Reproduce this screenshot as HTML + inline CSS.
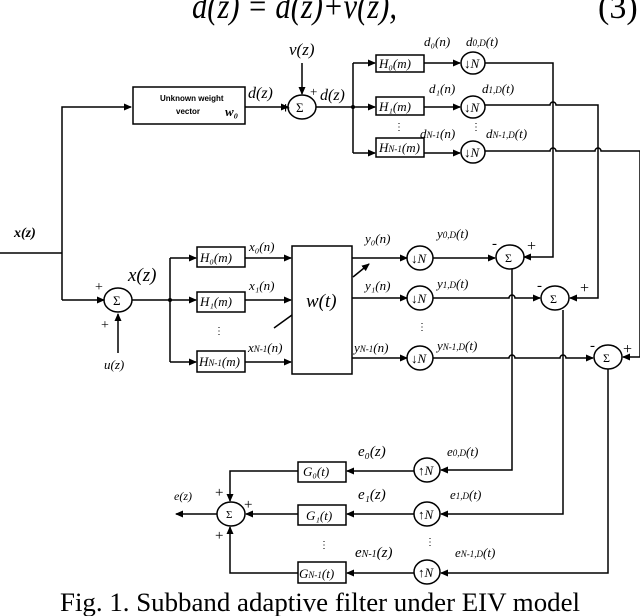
<!DOCTYPE html>
<html><head><meta charset="utf-8"><style>
html,body{margin:0;padding:0;background:#fff;}
svg{display:block;}
text{font-family:"Liberation Serif",serif;fill:#000;}
.l{font-style:italic;font-size:15px;}
.s{font-size:13px;}
</style></head><body>
<svg width="640" height="616" viewBox="0 0 640 616" xmlns="http://www.w3.org/2000/svg">
<defs><marker id="a" markerWidth="8" markerHeight="8" refX="7" refY="4" orient="auto" markerUnits="userSpaceOnUse"><path d="M0,0.5 L8,4 L0,7.5z" fill="#000"/></marker></defs>
<text x="192" y="18" textLength="205" lengthAdjust="spacingAndGlyphs" style="font-size:36px;font-style:italic">d(z) = d(z)+v(z),</text>
<text x="598" y="18" style="font-size:34px">(3)</text>
<g stroke="#000" stroke-width="1.5" fill="none">
<polyline points="0,253 62,253"/>
<polyline points="62,300 62,107 131,107" marker-end="url(#a)"/>
<polyline points="62,300 104,300" marker-end="url(#a)"/>
<rect x="133" y="87" width="112" height="37"/>
<line x1="245" y1="107" x2="288" y2="107" marker-end="url(#a)"/>
<ellipse cx="302" cy="107" rx="14" ry="12"/>
<line x1="302" y1="63" x2="302" y2="94" marker-end="url(#a)"/>
<line x1="316" y1="107" x2="353" y2="107"/>
<line x1="353" y1="63" x2="353" y2="153"/>
<line x1="353" y1="63" x2="375" y2="63" marker-end="url(#a)"/>
<line x1="353" y1="107" x2="375" y2="107" marker-end="url(#a)"/>
<line x1="353" y1="153" x2="375" y2="153" marker-end="url(#a)"/>
<rect x="376" y="55" width="48" height="17"/>
<rect x="376" y="97" width="48" height="18"/>
<rect x="376" y="138" width="48" height="19"/>
<line x1="424" y1="63" x2="460" y2="63" marker-end="url(#a)"/>
<line x1="424" y1="107" x2="460" y2="107" marker-end="url(#a)"/>
<line x1="424" y1="153" x2="460" y2="153" marker-end="url(#a)"/>
<ellipse cx="473" cy="63" rx="12" ry="11"/>
<ellipse cx="473" cy="107" rx="12" ry="11"/>
<ellipse cx="473" cy="152" rx="12" ry="11"/>
<polyline points="485,63 553,63 553,257 524,257" marker-end="url(#a)"/>
<path d="M485,105 L550,105 a3,3 0 0 1 6,0 L598,105 L598,298 L570,298" marker-end="url(#a)"/>
<path d="M485,151 L550,151 a3,3 0 0 1 6,0 L595,151 a3,3 0 0 1 6,0 L640,151"/>
<polyline points="640,151 640,357 623,357" marker-end="url(#a)"/>
<ellipse cx="118" cy="300" rx="14" ry="12"/>
<line x1="118" y1="353" x2="118" y2="314" marker-end="url(#a)"/>
<line x1="132" y1="300" x2="170" y2="300"/>
<line x1="170" y1="258" x2="170" y2="362"/>
<line x1="170" y1="258" x2="196" y2="258" marker-end="url(#a)"/>
<line x1="170" y1="300" x2="196" y2="300" marker-end="url(#a)"/>
<line x1="170" y1="362" x2="196" y2="362" marker-end="url(#a)"/>
<rect x="197" y="247" width="48" height="20"/>
<rect x="197" y="292" width="48" height="20"/>
<rect x="197" y="351" width="48" height="21"/>
<line x1="245" y1="258" x2="291" y2="258" marker-end="url(#a)"/>
<line x1="245" y1="300" x2="291" y2="300" marker-end="url(#a)"/>
<line x1="245" y1="362" x2="291" y2="362" marker-end="url(#a)"/>
<rect x="292" y="246" width="60" height="128"/>
<line x1="352" y1="258" x2="407" y2="258" marker-end="url(#a)"/>
<line x1="352" y1="298" x2="407" y2="298" marker-end="url(#a)"/>
<line x1="352" y1="358" x2="407" y2="358" marker-end="url(#a)"/>
<line x1="353" y1="277" x2="369" y2="264" marker-end="url(#a)"/>
<line x1="274" y1="328" x2="292" y2="315"/>
<ellipse cx="420" cy="258" rx="13" ry="12"/>
<ellipse cx="420" cy="298" rx="13" ry="12"/>
<ellipse cx="420" cy="358" rx="13" ry="12"/>
<line x1="433" y1="258" x2="495" y2="258" marker-end="url(#a)"/>
<path d="M433,298 L509,298 a3,3 0 0 1 6,0 L540,298" marker-end="url(#a)"/>
<path d="M433,358 L509,358 a3,3 0 0 1 6,0 L560,358 a3,3 0 0 1 6,0 L593,358" marker-end="url(#a)"/>
<ellipse cx="510" cy="257" rx="14" ry="12"/>
<ellipse cx="555" cy="298" rx="14" ry="12"/>
<ellipse cx="608" cy="357" rx="14" ry="12"/>
<polyline points="512,269 512,470 441,470" marker-end="url(#a)"/>
<polyline points="563,310 563,514 441,514" marker-end="url(#a)"/>
<polyline points="608,369 608,573 441,573" marker-end="url(#a)"/>
<ellipse cx="427" cy="470" rx="13" ry="12"/>
<ellipse cx="427" cy="514" rx="13" ry="12"/>
<ellipse cx="427" cy="572" rx="13" ry="12"/>
<line x1="414" y1="471" x2="347" y2="471" marker-end="url(#a)"/>
<line x1="414" y1="514" x2="347" y2="514" marker-end="url(#a)"/>
<line x1="414" y1="573" x2="347" y2="573" marker-end="url(#a)"/>
<rect x="298" y="462" width="48" height="20"/>
<rect x="298" y="505" width="48" height="20"/>
<rect x="298" y="562" width="48" height="21"/>
<polyline points="298,471 230,471 230,501" marker-end="url(#a)"/>
<line x1="298" y1="514" x2="246" y2="514" marker-end="url(#a)"/>
<polyline points="298,573 230,573 230,527" marker-end="url(#a)"/>
<ellipse cx="231" cy="514" rx="14" ry="12"/>
<line x1="217" y1="514" x2="176" y2="514" marker-end="url(#a)"/>
</g>
<circle cx="353" cy="107" r="2" fill="#000"/>
<circle cx="170" cy="300" r="2" fill="#000"/>
<text x="160" y="101" style="font-family:'Liberation Sans',sans-serif;font-size:8px;font-weight:bold">Unknown weight</text>
<text x="176" y="114" style="font-family:'Liberation Sans',sans-serif;font-size:8px;font-weight:bold">vector</text>
<text x="225" y="116" style="font-size:13px;font-weight:bold;font-style:italic">w₀</text>
<text x="289" y="55" class="l" style="font-size:17px">v(z)</text>
<text x="248" y="98" class="l" style="font-size:16px">d(z)</text>
<text x="281" y="113" style="font-size:16px;font-weight:bold">+</text>
<text x="310" y="96" style="font-size:13px">+</text>
<text x="320" y="100" class="l" style="font-size:16px">d(z)</text>
<text x="296" y="112" style="font-size:13px">Σ</text>
<text x="379" y="68" class="l s">H₀(m)</text>
<text x="379" y="111" class="l s">H₁(m)</text>
<text x="379" y="152" class="l s">H<tspan font-size="9">N-1</tspan>(m)</text>
<text x="424" y="46" class="l s">d₀(n)</text>
<text x="429" y="93" class="l s">d₁(n)</text>
<text x="420" y="138" class="l s">d<tspan font-size="9">N-1</tspan>(n)</text>
<text x="466" y="46" class="l s">d<tspan font-size="9">0,D</tspan>(t)</text>
<text x="482" y="93" class="l s">d<tspan font-size="9">1,D</tspan>(t)</text>
<text x="486" y="138" class="l s">d<tspan font-size="9">N-1,D</tspan>(t)</text>
<text x="464" y="68" style="font-size:13px">↓<tspan font-style="italic">N</tspan></text>
<text x="464" y="112" style="font-size:13px">↓<tspan font-style="italic">N</tspan></text>
<text x="464" y="157" style="font-size:13px">↓<tspan font-style="italic">N</tspan></text>
<text x="394" y="130" style="font-size:10px">⋮</text>
<text x="471" y="130" style="font-size:10px">⋮</text>
<text x="14" y="237" class="l" style="font-weight:bold;font-size:14px">x(z)</text>
<text x="128" y="281" style="font-size:19px;font-style:italic">x(z)</text>
<text x="95" y="291" style="font-size:14px">+</text>
<text x="101" y="329" style="font-size:14px">+</text>
<text x="113" y="305" style="font-size:13px">Σ</text>
<text x="104" y="369" class="l s">u(z)</text>
<text x="200" y="262" class="l s">H₀(m)</text>
<text x="200" y="306" class="l s">H₁(m)</text>
<text x="199" y="366" class="l s">H<tspan font-size="9">N-1</tspan>(m)</text>
<text x="214" y="334" style="font-size:10px">⋮</text>
<text x="249" y="251" class="l s">x₀(n)</text>
<text x="249" y="290" class="l s">x₁(n)</text>
<text x="248" y="352" class="l s">x<tspan font-size="9">N-1</tspan>(n)</text>
<text x="306" y="307" style="font-size:19px;font-style:italic">w(t)</text>
<text x="365" y="243" class="l s">y₀(n)</text>
<text x="365" y="290" class="l s">y₁(n)</text>
<text x="354" y="352" class="l s">y<tspan font-size="9">N-1</tspan>(n)</text>
<text x="437" y="238" class="l s">y<tspan font-size="9">0,D</tspan>(t)</text>
<text x="437" y="288" class="l s">y<tspan font-size="9">1,D</tspan>(t)</text>
<text x="437" y="350" class="l s">y<tspan font-size="9">N-1,D</tspan>(t)</text>
<text x="411" y="263" style="font-size:13px">↓<tspan font-style="italic">N</tspan></text>
<text x="411" y="303" style="font-size:13px">↓<tspan font-style="italic">N</tspan></text>
<text x="411" y="363" style="font-size:13px">↓<tspan font-style="italic">N</tspan></text>
<text x="417" y="330" style="font-size:10px">⋮</text>
<text x="505" y="262" style="font-size:12px">Σ</text>
<text x="550" y="303" style="font-size:12px">Σ</text>
<text x="603" y="362" style="font-size:12px">Σ</text>
<text x="492" y="248" style="font-size:15px">-</text>
<text x="527" y="251" style="font-size:16px">+</text>
<text x="537" y="290" style="font-size:15px">-</text>
<text x="580" y="293" style="font-size:16px">+</text>
<text x="590" y="350" style="font-size:15px">-</text>
<text x="623" y="354" style="font-size:16px">+</text>
<text x="418" y="475" style="font-size:13px">↑<tspan font-style="italic">N</tspan></text>
<text x="418" y="519" style="font-size:13px">↑<tspan font-style="italic">N</tspan></text>
<text x="418" y="577" style="font-size:13px">↑<tspan font-style="italic">N</tspan></text>
<text x="425" y="545" style="font-size:10px">⋮</text>
<text x="319" y="548" style="font-size:10px">⋮</text>
<text x="303" y="476" class="l s">G₀(t)</text>
<text x="306" y="520" class="l s">G₁(t)</text>
<text x="299" y="578" class="l s">G<tspan font-size="9">N-1</tspan>(t)</text>
<text x="358" y="456" class="l" style="font-size:15px">e₀(z)</text>
<text x="358" y="499" class="l" style="font-size:15px">e₁(z)</text>
<text x="355" y="557" class="l" style="font-size:15px">e<tspan font-size="10">N-1</tspan>(z)</text>
<text x="447" y="456" class="l s">e<tspan font-size="9">0,D</tspan>(t)</text>
<text x="450" y="499" class="l s">e<tspan font-size="9">1,D</tspan>(t)</text>
<text x="455" y="557" class="l s">e<tspan font-size="9">N-1,D</tspan>(t)</text>
<text x="174" y="500" class="l" style="font-size:12px">e(z)</text>
<text x="226" y="518" style="font-size:11px">Σ</text>
<text x="215" y="497" style="font-size:15px">+</text>
<text x="244" y="509" style="font-size:15px">+</text>
<text x="215" y="540" style="font-size:15px">+</text>
<text x="60" y="611" textLength="520" lengthAdjust="spacingAndGlyphs" style="font-size:26px">Fig. 1. Subband adaptive filter under EIV model</text>
</svg>
</body></html>
